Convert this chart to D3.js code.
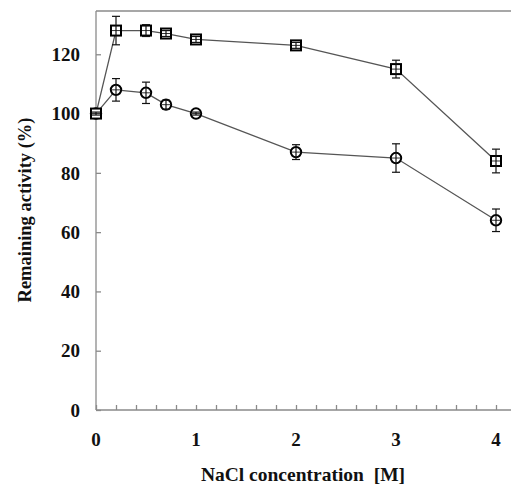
<!DOCTYPE html>
<html>
<head>
<meta charset="utf-8">
<script src="https://cdn.jsdelivr.net/npm/d3@7"></script>
<style>
  html, body { margin: 0; padding: 0; background: #fff; }
  svg { display: block; }
</style>
</head>
<body>
<svg id="chart" width="511" height="484"></svg>
<script>
// NaCl concentration (M)
const conc = [0, 0.2, 0.5, 0.7, 1, 2, 3, 4];
// remaining activity (%), square series and circle series
const squareVals = [100, 128, 128, 127, 125, 123, 115, 84];
const squareErr  = [0.5, 4.8, 2, 1, 1, 1, 3, 4];
const circleVals = [100, 108, 107, 103, 100, 87, 85, 64];
const circleErr  = [0.5, 3.8, 3.6, 1.5, 0.5, 2.5, 4.8, 3.8];
const yTicks = [0, 20, 40, 60, 80, 100, 120];
const xTicks = [0, 1, 2, 3, 4];

const svg = d3.select('#chart');
const plotL = 96, plotT = 11, plotB = 410, plotR = 511;
const serif = "'Liberation Serif', 'DejaVu Serif', serif";

const x = d3.scaleLinear().domain([0, 4.15]).range([plotL, plotR]);
const y = d3.scaleLinear().domain([0, 134.6]).range([plotB, plotT]);

const axisColor = '#8a8a8a';

// frame (top line + left/bottom axes)
svg.append('line').attr('x1', plotL).attr('x2', plotR).attr('y1', plotT).attr('y2', plotT)
  .attr('stroke', axisColor).attr('stroke-width', 1.3);

const yAxis = svg.append('g').attr('transform', `translate(${plotL},0)`)
  .call(d3.axisRight(y).tickValues(yTicks).tickSize(5).tickFormat(''));
yAxis.select('.domain').attr('d', `M0,${plotT}V${plotB}`);
yAxis.selectAll('path, line').attr('stroke', axisColor).attr('stroke-width', 1.3);

const minor = d3.range(0, 21).map(i => i * 0.2);
const xAxis = svg.append('g').attr('transform', `translate(0,${plotB})`)
  .call(d3.axisTop(x).tickValues(minor).tickSize(5).tickFormat(''));
xAxis.select('.domain').attr('d', `M${plotL},0H${plotR}`);
xAxis.selectAll('path, line').attr('stroke', axisColor).attr('stroke-width', 1.3);

function label(sel, size) {
  return sel.attr('font-family', serif).attr('font-weight', 'bold')
    .attr('font-size', size || 19).attr('fill', '#111');
}

// tick labels
svg.append('g').selectAll('text').data(yTicks).join('text')
  .call(label).attr('x', 80).attr('y', d => y(d)).attr('dy', '0.35em')
  .attr('text-anchor', 'end').text(d => d);

svg.append('g').selectAll('text').data(xTicks).join('text')
  .call(label).attr('x', d => x(d)).attr('y', 446)
  .attr('text-anchor', 'middle').text(d => d);

// axis titles
svg.append('text').call(label, 19.5).attr('x', 303).attr('y', 481)
  .attr('text-anchor', 'middle')
  .attr('xml:space', 'preserve').text('NaCl concentration  [M]');

svg.append('text').call(label, 18.5)
  .attr('transform', 'translate(31,210) rotate(-90)')
  .attr('text-anchor', 'middle')
  .text('Remaining activity (%)');

const line = d3.line().x(d => x(d[0])).y(d => y(d[1]));

function drawSeries(vals, errs, shape) {
  const pts = conc.map((c, i) => [c, vals[i], errs[i]]);
  const g = svg.append('g');
  g.append('path').datum(pts).attr('d', line)
    .attr('fill', 'none').attr('stroke', '#555').attr('stroke-width', 1.3);

  const m = g.selectAll('g.pt').data(pts).join('g')
    .attr('transform', d => `translate(${x(d[0])},${y(d[1])})`);

  if (shape === 'square') {
    m.append('rect').attr('x', -5).attr('y', -5).attr('width', 10).attr('height', 10)
      .attr('fill', '#fff').attr('stroke', '#000').attr('stroke-width', 2);
  } else {
    m.append('circle').attr('r', 5.2)
      .attr('fill', '#fff').attr('stroke', '#000').attr('stroke-width', 2);
  }
  // small inner cross
  m.append('line').attr('x1', -4).attr('x2', 4).attr('y1', 0).attr('y2', 0)
    .attr('stroke', '#333').attr('stroke-width', 1);

  // error bars
  const eb = g.selectAll('g.eb').data(pts).join('g');
  eb.append('line')
    .attr('x1', d => x(d[0])).attr('x2', d => x(d[0]))
    .attr('y1', d => y(d[1] + d[2])).attr('y2', d => y(d[1] - d[2]))
    .attr('stroke', '#111').attr('stroke-width', 1.2);
  [1, -1].forEach(s => {
    eb.append('line')
      .attr('x1', d => x(d[0]) - 4).attr('x2', d => x(d[0]) + 4)
      .attr('y1', d => y(d[1] + s * d[2])).attr('y2', d => y(d[1] + s * d[2]))
      .attr('stroke', '#111').attr('stroke-width', 1.2);
  });
}

drawSeries(circleVals, circleErr, 'circle');
drawSeries(squareVals, squareErr, 'square');
</script>
</body>
</html>
